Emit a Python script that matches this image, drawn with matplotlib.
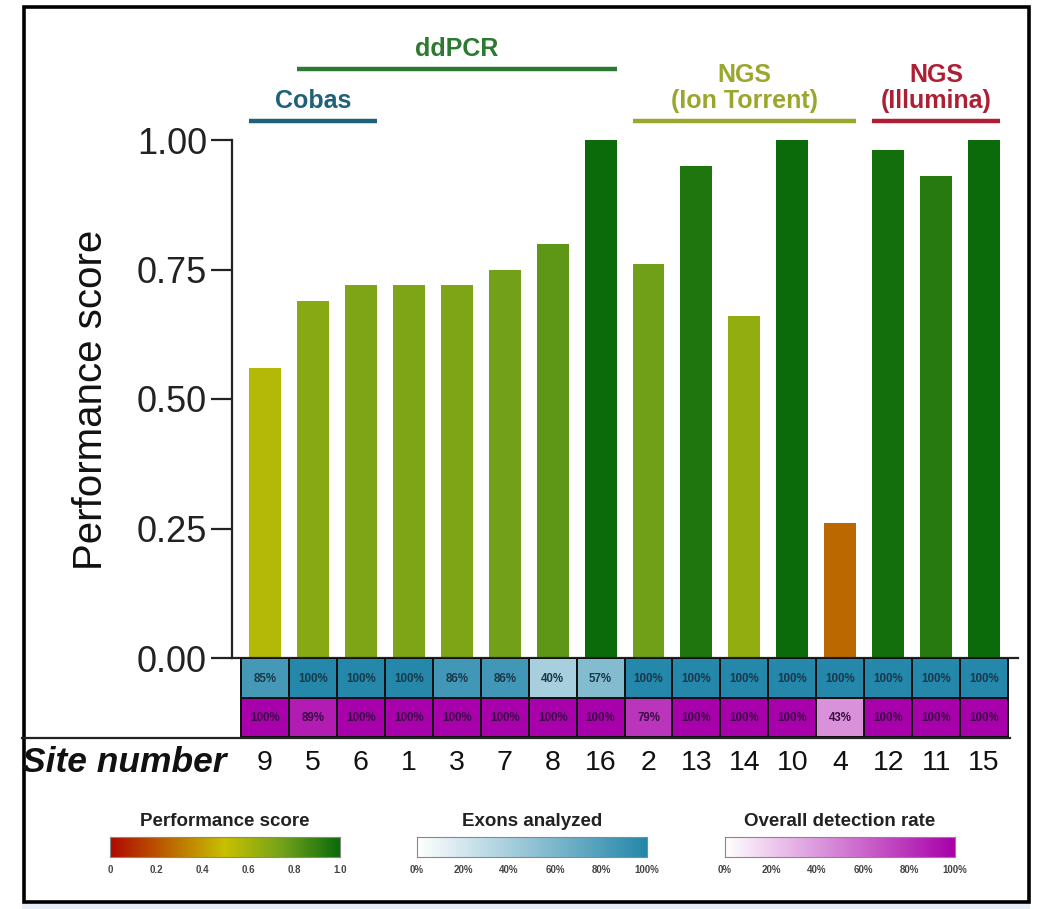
import numpy as np
import matplotlib
matplotlib.use("Agg")
import matplotlib.pyplot as plt
from matplotlib.colors import LinearSegmentedColormap
from matplotlib.patches import Rectangle
from matplotlib.lines import Line2D
import matplotlib.transforms as mtransforms

plt.rcParams['font.family'] = ['Liberation Sans', 'DejaVu Sans']

# ---------------- data ----------------
sites = ["9", "5", "6", "1", "3", "7", "8", "16", "2", "13", "14", "10", "4", "12", "11", "15"]
scores = [0.56, 0.69, 0.72, 0.72, 0.72, 0.75, 0.80, 1.00, 0.76, 0.95, 0.66, 1.00, 0.26, 0.98, 0.93, 1.00]
exons = [85, 100, 100, 100, 86, 86, 40, 57, 100, 100, 100, 100, 100, 100, 100, 100]
detection = [100, 89, 100, 100, 100, 100, 100, 100, 79, 100, 100, 100, 43, 100, 100, 100]
yticks = [0.00, 0.25, 0.50, 0.75, 1.00]
groups = ["Cobas", "ddPCR", "NGS\n(Ion Torrent)", "NGS\n(Illumina)"]
group_start = [0, 1, 8, 13]
group_end = [2, 7, 12, 15]
group_colors = ["#1e6178", "#2b7a2f", "#9ba62c", "#ad1f33"]
perf_ticks = ["0", "0.2", "0.4", "0.6", "0.8", "1.0"]
pct_ticks = ["0%", "20%", "40%", "60%", "80%", "100%"]

# ---------------- colormaps ----------------
cm_perf = LinearSegmentedColormap.from_list(
    "perf", [(0.0, "#b00a00"), (0.5, "#c8c000"), (0.75, "#73a219"), (1.0, "#0b6b0b")])
cm_ex = LinearSegmentedColormap.from_list("ex", ["#ffffff", "#2587aa"])
cm_det = LinearSegmentedColormap.from_list("det", ["#ffffff", "#a800aa"])

W, H = 1038, 909
fig = plt.figure(figsize=(W / 100, H / 100), dpi=100)


def fx(px):
    return px / W


def fy(py):
    return 1 - py / H


n = len(sites)
unit = 47.94          # px per category
x0_px = 241           # px of x = -0.5
left_px, right_px = 232, 1018
xlim = ((left_px - x0_px) / unit - 0.5, (right_px - x0_px) / unit - 0.5)

# main bar axes
y0_px, y1_px = 658, 140
top_px = 130
ytop = (y0_px - top_px) / (y0_px - y1_px)
ax = fig.add_axes([fx(left_px), fy(y0_px), (right_px - left_px) / W, (y0_px - top_px) / H])
x = np.arange(n)
ax.bar(x, scores, width=0.667, color=[cm_perf(s) for s in scores], zorder=2)
ax.set_xlim(*xlim)
ax.set_ylim(0, ytop)
ax.set_yticks(yticks)
ax.set_yticklabels([f"{t:.2f}" for t in yticks], fontsize=26, color="#222222")
ax.tick_params(axis="y", length=15, width=1.6, color="#222222", pad=3)
ax.set_xticks([])
for s in ["top", "right"]:
    ax.spines[s].set_visible(False)
ax.spines["left"].set_bounds(0, 1.0)
ax.spines["left"].set_linewidth(1.6)
ax.spines["bottom"].set_linewidth(1.6)
ax.spines["left"].set_color("#222222")
ax.spines["bottom"].set_color("#222222")
ax.set_ylabel("Performance score", fontsize=29, color="#111111")
ax.yaxis.set_label_coords((110 - left_px) / (right_px - left_px), (y0_px - 400) / (y0_px - top_px))

# group labels
bt = mtransforms.blended_transform_factory(ax.transData, fig.transFigure)
line_y = [121, 69, 121, 121]
for g, s0, s1, c, ly in zip(groups, group_start, group_end, group_colors, line_y):
    ax.add_line(Line2D([s0 - 0.333, s1 + 0.333], [fy(ly), fy(ly)], transform=bt,
                       color=c, lw=3.2, clip_on=False, solid_capstyle="butt"))
    ax.text((s0 + s1) / 2, fy(ly - 8), g, transform=bt, ha="center", va="bottom",
            color=c, fontsize=18, fontweight="bold", linespacing=1.08, clip_on=False)

# heatmap axes
hm_top, hm_bot = 658, 737
axh = fig.add_axes([fx(left_px), fy(hm_bot), (right_px - left_px) / W, (hm_bot - hm_top) / H])
xe = np.arange(n + 1) - 0.5
axh.pcolormesh(xe, [0, 1], np.array(exons)[None, :], cmap=cm_ex, vmin=0, vmax=100,
               edgecolors="#111111", linewidth=1.3)
axh.pcolormesh(xe, [1, 2], np.array(detection)[None, :], cmap=cm_det, vmin=0, vmax=100,
               edgecolors="#111111", linewidth=1.3)
axh.set_xlim(*xlim)
axh.set_ylim(2, 0)
axh.axis("off")
for i in range(n):
    axh.text(i, 0.52, f"{exons[i]}%", ha="center", va="center", fontsize=8.3,
             fontweight="bold", color="#17394a")
    axh.text(i, 1.52, f"{detection[i]}%", ha="center", va="center", fontsize=8.3,
             fontweight="bold", color="#3a0a45")
    axh.text(i, (763 - hm_top) / ((hm_bot - hm_top) / 2), sites[i], ha="center", va="center",
             fontsize=20.5, color="#111111", clip_on=False)

# line under heatmap
fig.add_artist(Line2D([fx(22), fx(1010)], [fy(737.5), fy(737.5)], color="#222222", lw=1.6))
fig.text(fx(226), fy(762), "Site number", ha="right", va="center", fontsize=25.5,
         fontweight="bold", fontstyle="italic", color="#111111")

# colour legends
grad = np.linspace(0, 1, 256)[None, :]
legends = [("Performance score", cm_perf, perf_ticks, 110),
           ("Exons analyzed", cm_ex, pct_ticks, 417),
           ("Overall detection rate", cm_det, pct_ticks, 725)]
for title, cm, ticks, lx in legends:
    cax = fig.add_axes([fx(lx), fy(857), 230 / W, 20 / H])
    cax.imshow(grad, aspect="auto", cmap=cm, extent=[0, 1, 0, 1])
    cax.set_xticks([])
    cax.set_yticks([])
    for sp in cax.spines.values():
        sp.set_color("#888888")
        sp.set_linewidth(0.8)
    fig.text(fx(lx + 115), fy(822), title, ha="center", va="center", fontsize=13.5,
             fontweight="bold", color="#222222")
    for k, t in enumerate(ticks):
        fig.text(fx(lx + k * 46), fy(870), t, ha="center", va="center", fontsize=7,
                 fontweight="bold", color="#444444")

# outer frame and bottom strip
fig.add_artist(Rectangle((fx(22), fy(909)), (1008) / W, 7 / H, transform=fig.transFigure,
                         facecolor="#e8eef9", edgecolor="none"))
fig.add_artist(Rectangle((fx(23.5), fy(901.5)), (1005) / W, (895) / H, transform=fig.transFigure,
                         facecolor="none", edgecolor="#000000", lw=2.6))

fig.savefig("out.png", dpi=100)
